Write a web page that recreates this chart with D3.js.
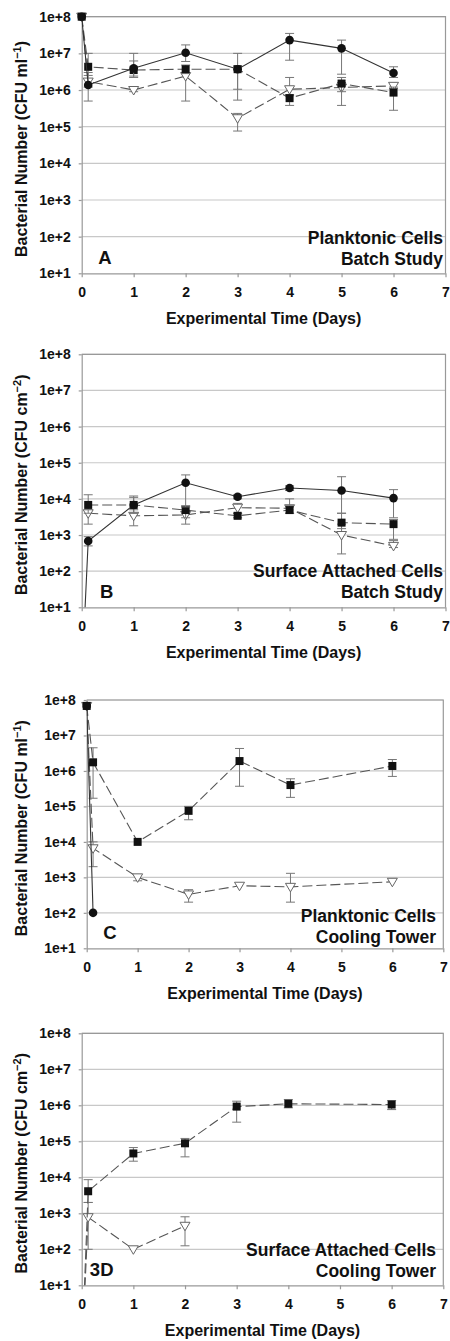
<!DOCTYPE html>
<html>
<head>
<meta charset="utf-8">
<script src="https://cdn.jsdelivr.net/npm/d3@7"></script>
<style>
  body { margin: 0; background: #fff; }
  svg text { font-family: "Liberation Sans", Arial, sans-serif; font-weight: bold; fill: #111; }
</style>
</head>
<body>
<div id="chart"></div>
<script>
// ---- data ----
var dayTicks = [0, 1, 2, 3, 4, 5, 6, 7];
var decadeTicks = [1e1, 1e2, 1e3, 1e4, 1e5, 1e6, 1e7, 1e8];

// A: planktonic, batch
var daysA = [0, 0.125, 1, 2, 3, 4, 5, 6];
var circA = [1e8, 1.37e6, 3.9e6, 1.04e7, 3.7e6, 2.3e7, 1.37e7, 2.9e6];
var circA_lo = [null, 5e5, 2.2e6, 6e6, 5.3e5, 6.5e6, 2.7e6, 2.2e6];
var circA_hi = [null, 3e6, 1e7, 1.7e7, 1e7, 3.5e7, 2.3e7, 4.3e6];
var sqA = [1e8, 4.3e6, 3.5e6, 3.7e6, 3.7e6, 6e5, 1.5e6, 8.5e5];
var sqA_lo = [null, 2.5e6, 2.4e6, 2.8e6, 1.05e6, 3.8e5, 3.8e5, 2.8e5];
var sqA_hi = [null, 1e7, 6.2e6, 4.8e6, 4.5e6, 7.5e5, 2.2e6, 1.2e6];
var triA = [1e8, 1.7e6, 1e6, 2.4e6, 1.7e5, 1.05e6, 1.17e6, 1.3e6];
var triA_lo = [null, 1.2e6, 9e5, 5e5, 7.6e4, 7e5, 9e5, 1.1e6];
var triA_hi = [null, 2e6, 1.2e6, 3e6, 2.3e5, 2.2e6, 1.6e6, 1.5e6];

// B: surface attached, batch
var daysB_circ = [0, 0.125, 1, 2, 3, 4, 5, 6];
var circB = [0.1, 684, 6.8e3, 2.8e4, 1.15e4, 2.0e4, 1.7e4, 1.05e4];
var circB_lo = [null, 500, 4e3, 6e3, 1e4, 1.7e4, 4e3, 3e3];
var circB_hi = [null, 900, 1.2e4, 4.6e4, 1.3e4, 2.3e4, 4.1e4, 1.8e4];
var daysB = [0.125, 1, 2, 3, 4, 5, 6];
var sqB = [6.8e3, 6.8e3, 4.9e3, 3.4e3, 4.9e3, 2.2e3, 2.0e3];
var sqB_lo = [4e3, 4e3, 3e3, 3e3, 4e3, 1.5e3, 760];
var sqB_hi = [1.3e4, 1.1e4, 6.5e3, 4e3, 6.5e3, 4e3, 2.7e3];
var triB = [4e3, 3.4e3, 3.6e3, 5.7e3, 5.5e3, 1e3, 500];
var triB_lo = [2e3, 1.8e3, 2e3, 4e3, 4e3, 300, 450];
var triB_hi = [5e3, 5e3, 6e3, 7.5e3, 1e4, 2e3, 700];

// C: planktonic, cooling tower
var daysC_circ = [0, 0.125];
var circC = [6.8e7, 100];
var daysC = [0, 0.125, 1, 2, 3, 4, 6];
var sqC = [6.8e7, 1.75e6, 1e4, 7.5e4, 1.9e6, 4e5, 1.38e6];
var sqC_lo = [null, 1.7e5, null, 4.2e4, 3.7e5, 1.8e5, 7e5];
var sqC_hi = [null, 4.5e6, null, 1e5, 4.3e6, 6e5, 2.1e6];
var triC = [6.8e7, 6.6e3, 1e3, 330, 580, 540, 750];
var triC_lo = [null, 2e3, 800, 200, null, 200, null];
var triC_hi = [null, 1e4, 1.2e3, 450, null, 1.3e3, null];

// D: surface attached, cooling tower
var daysD_sq = [0, 0.125, 1, 2, 3, 4, 6];
var sqD = [0.1, 4.1e3, 4.6e4, 8.8e4, 9.2e5, 1.1e6, 1.05e6];
var sqD_lo = [null, 2e3, 2.8e4, 3.7e4, 3.4e5, 8.5e5, 7.6e5];
var sqD_hi = [null, 8.6e3, 6.7e4, 1.2e5, 1.3e6, 1.45e6, 1.35e6];
var daysD_tri = [0, 0.125, 1, 2];
var triD = [0.1, 780, 100, 450];
var triD_lo = [null, 100, null, 125];
var triD_hi = [null, 2e3, null, 800];

function series(shape, days, vals, lo, hi) {
    return days.map(function(t, i) {
        return { t: t, v: vals[i], lo: lo ? lo[i] : null, hi: hi ? hi[i] : null, shape: shape };
    });
}

// ---- layout of the four panels ----
var panels = [
    { top: 16.7, bottom: 273.3, left: 81.7, right: 445.5, unit: "ml", sup: "\u22121",
      title: ["Planktonic Cells", "Batch Study"], titleX: 443, titleDy: [-36, -15],
      letter: "A", letterX: 105,
      data: [series("tri", daysA, triA, triA_lo, triA_hi),
             series("sq", daysA, sqA, sqA_lo, sqA_hi),
             series("circ", daysA, circA, circA_lo, circA_hi)] },
    { top: 354.3, bottom: 607.3, left: 81.7, right: 445.5, unit: "cm", sup: "\u22122",
      title: ["Surface Attached Cells", "Batch Study"], titleX: 443, titleDy: [-36.3, -15.6],
      letter: "B", letterX: 106.7,
      data: [series("tri", daysB, triB, triB_lo, triB_hi),
             series("sq", daysB, sqB, sqB_lo, sqB_hi),
             series("circ", daysB_circ, circB, circB_lo, circB_hi)] },
    { top: 700, bottom: 948.3, left: 86.7, right: 443.3, unit: "ml", sup: "\u22121",
      title: ["Planktonic Cells", "Cooling Tower"], titleX: 436, titleDy: [-32.3, -11.6],
      letter: "C", letterX: 110,
      data: [series("tri", daysC, triC, triC_lo, triC_hi),
             series("sq", daysC, sqC, sqC_lo, sqC_hi),
             series("circ", daysC_circ, circC, null, null)] },
    { top: 1033.3, bottom: 1285.3, left: 81.7, right: 443.3, unit: "cm", sup: "\u22122",
      title: ["Surface Attached Cells", "Cooling Tower"], titleX: 436, titleDy: [-35.3, -14.6],
      letter: "3D", letterX: 101.7,
      data: [series("tri", daysD_tri, triD, triD_lo, triD_hi),
             series("sq", daysD_sq, sqD, sqD_lo, sqD_hi)] }
];

var svg = d3.select("#chart").append("svg")
    .attr("width", 450)
    .attr("height", 1341);

panels.forEach(function(p, pi) {
    var x = d3.scaleLinear().domain([0, 7]).range([p.left, p.right]);
    var y = d3.scaleLog().domain([1e1, 1e8]).range([p.bottom, p.top]);
    var g = svg.append("g");

    // gridlines
    g.selectAll(".grid")
        .data(decadeTicks.slice(1))
        .enter().append("line")
        .attr("x1", p.left).attr("x2", p.right)
        .attr("y1", d => y(d)).attr("y2", d => y(d))
        .attr("stroke", "#c8c8c8").attr("stroke-width", 1.2);

    // frame (top + right)
    g.append("path")
        .attr("d", "M" + p.left + "," + p.top + "H" + p.right + "V" + p.bottom)
        .attr("fill", "none").attr("stroke", "#999").attr("stroke-width", 1.2);

    // axes
    var yAxis = d3.axisLeft(y)
        .tickValues(decadeTicks)
        .tickFormat(d => "1e+" + Math.round(Math.log10(d)))
        .tickSizeInner(3).tickSizeOuter(0).tickPadding(8);
    var ya = g.append("g").attr("transform", "translate(" + p.left + ",0)").call(yAxis);

    var xAxis = d3.axisBottom(x)
        .tickValues(dayTicks)
        .tickFormat(d3.format("d"))
        .tickSizeInner(4).tickSizeOuter(0).tickPadding(10);
    var xa = g.append("g").attr("transform", "translate(0," + p.bottom + ")").call(xAxis);

    [ya, xa].forEach(function(a) {
        a.select(".domain").attr("stroke", "#999").attr("stroke-width", 1.2);
        a.selectAll(".tick line").attr("stroke", "#999").attr("stroke-width", 1.2);
        a.selectAll(".tick text")
            .attr("fill", "#111")
            .style("font-size", "14px")
            .style("font-family", "'Liberation Sans', Arial, sans-serif")
            .style("font-weight", "bold");
    });

    // axis titles
    g.append("text")
        .attr("x", (p.left + p.right) / 2)
        .attr("y", p.bottom + 45 + 5.7)
        .attr("text-anchor", "middle")
        .style("font-size", "16px")
        .text("Experimental Time (Days)");

    var yt = g.append("text")
        .attr("transform", "translate(27," + ((p.top + p.bottom) / 2 + 4) + ") rotate(-90)")
        .attr("text-anchor", "middle")
        .style("font-size", "16px");
    yt.append("tspan").text("Bacterial Number (CFU " + p.unit);
    yt.append("tspan").attr("dy", -6).style("font-size", "11px").text(p.sup);
    yt.append("tspan").attr("dy", 6).text(")");

    // panel text
    p.title.forEach(function(s, i) {
        g.append("text")
            .attr("x", p.titleX)
            .attr("y", p.bottom + p.titleDy[i] + 6.2)
            .attr("text-anchor", "end")
            .style("font-size", "17.5px")
            .text(s);
    });
    g.append("text")
        .attr("x", p.letterX)
        .attr("y", p.bottom - 15.5 + 6.6)
        .attr("text-anchor", "middle")
        .style("font-size", "18.5px")
        .text(p.letter);

    // clip for lines that leave the plot
    var clipId = "clip" + pi;
    svg.append("clipPath").attr("id", clipId)
        .append("rect")
        .attr("x", p.left).attr("y", p.top - 6)
        .attr("width", p.right - p.left).attr("height", p.bottom - p.top + 6);

    var line = d3.line().x(d => x(d.t)).y(d => y(d.v));

    p.data.forEach(function(s) {
        var shape = s[0].shape;
        // error bars
        var eb = s.filter(d => d.lo != null && d.hi != null);
        var ge = g.append("g").attr("stroke", "#777").attr("stroke-width", 1);
        ge.selectAll(".v").data(eb).enter().append("line")
            .attr("x1", d => x(d.t)).attr("x2", d => x(d.t))
            .attr("y1", d => y(d.lo)).attr("y2", d => y(d.hi));
        ["lo", "hi"].forEach(function(k) {
            ge.selectAll(".c" + k).data(eb).enter().append("line")
                .attr("x1", d => x(d.t) - 4.5).attr("x2", d => x(d.t) + 4.5)
                .attr("y1", d => y(d[k])).attr("y2", d => y(d[k]));
        });

        // connecting line
        g.append("path")
            .datum(s)
            .attr("clip-path", "url(#" + clipId + ")")
            .attr("d", line)
            .attr("fill", "none")
            .attr("stroke", shape == "circ" ? "#333" : "#555")
            .attr("stroke-width", 1.1)
            .attr("stroke-dasharray", shape == "circ" ? null : "10,4");

        // markers (skip points below the axis)
        var pts = s.filter(d => d.v >= 10);
        if (shape == "circ") {
            g.selectAll(null).data(pts).enter().append("circle")
                .attr("cx", d => x(d.t)).attr("cy", d => y(d.v))
                .attr("r", 4.3).attr("fill", "#111");
        } else if (shape == "sq") {
            g.selectAll(null).data(pts).enter().append("rect")
                .attr("x", d => x(d.t) - 4).attr("y", d => y(d.v) - 4)
                .attr("width", 8).attr("height", 8).attr("fill", "#111");
        } else {
            g.selectAll(null).data(pts).enter().append("path")
                .attr("d", d => {
                    var cx = x(d.t), cy = y(d.v);
                    return "M" + (cx - 5) + "," + (cy - 3.5) + "L" + (cx + 5) + "," + (cy - 3.5) +
                        "L" + cx + "," + (cy + 5) + "Z";
                })
                .attr("fill", "#fff").attr("stroke", "#666").attr("stroke-width", 1);
        }
    });
});
</script>
</body>
</html>
